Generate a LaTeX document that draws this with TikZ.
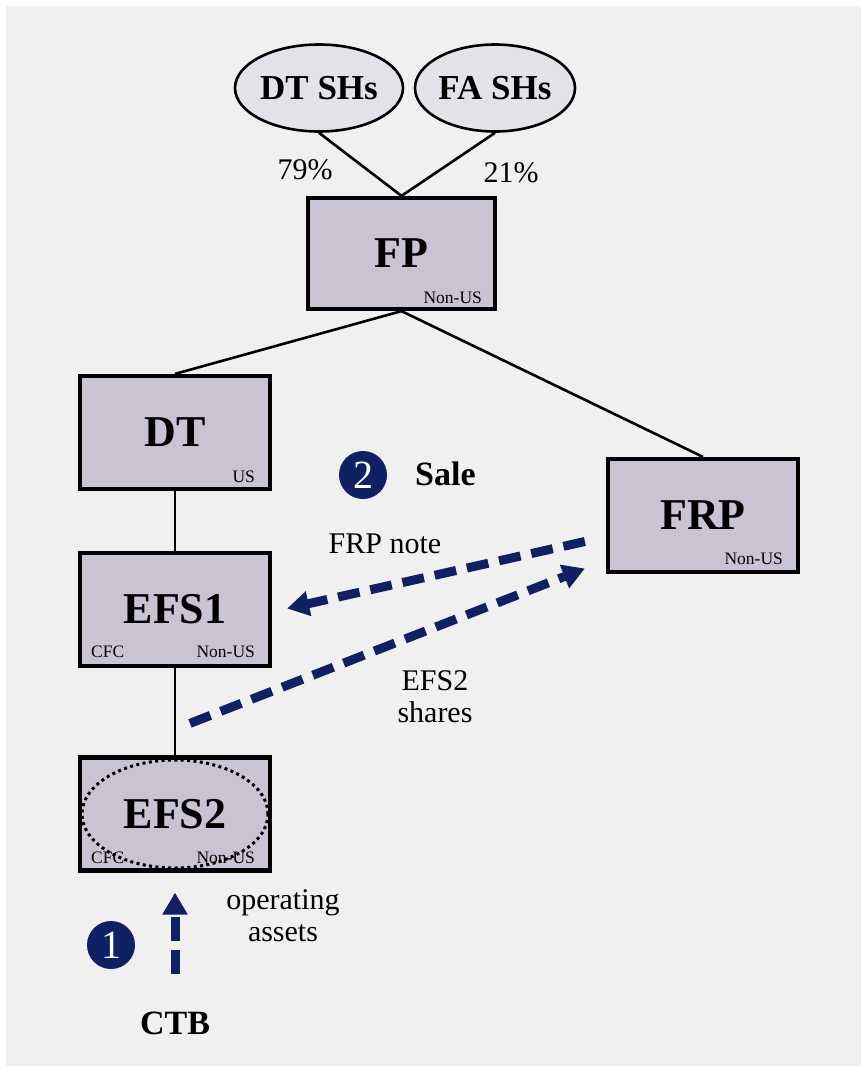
\documentclass[tikz,border=0pt]{standalone}
\usepackage{fontspec}
\setmainfont{Liberation Serif}
\usetikzlibrary{shapes.geometric,arrows.meta}
\definecolor{panel}{HTML}{F0F0F0}
\definecolor{boxfill}{HTML}{C9C3D3}
\definecolor{ovalfill}{HTML}{E4E2E8}
\definecolor{navy}{HTML}{0F2163}

\begin{document}
\begin{tikzpicture}[x=1pt,y=-1pt,
  entity/.style={draw=black, line width=4.2pt, fill=boxfill, rectangle,
    minimum width=190pt, minimum height=113pt, inner sep=0pt,
    font=\fontsize{44}{44}\selectfont\bfseries},
  holder/.style={draw=black, line width=2.6pt, fill=ovalfill, ellipse,
    minimum height=87pt, inner sep=0pt,
    font=\fontsize{35}{35}\selectfont\bfseries},
  tag/.style={inner sep=0pt, font=\fontsize{17.5}{17.5}\selectfont},
  lbl/.style={inner sep=0pt, align=center, font=\fontsize{30}{32}\selectfont},
  own/.style={line width=2.6pt},
  flow/.style={navy, line width=9pt, dash pattern=on 22pt off 11pt,
    -{Triangle[length=22pt,width=24pt]}},
  badge/.style={circle, fill=navy, text=white, minimum size=48pt, inner sep=0pt,
    font=\fontsize{40}{40}\selectfont},
  cto/.style={inner sep=0pt, font=\fontsize{34}{34}\selectfont\bfseries},
]
% page and panel
\fill[white] (0,0) rectangle (861,1066);
\fill[panel] (6,6) rectangle (861,1066);
\useasboundingbox (0,0) rectangle (861,1066);

% shareholders
\node[holder, minimum width=168pt] (dtsh) at (319,88) {DT SHs};
\node[holder, minimum width=154pt] (fash) at (495,88) {FA SHs};

% entities
\node[entity, minimum width=187pt, minimum height=111pt] (fp) at (401.5,253.5) {FP};
\node[entity] (dt) at (175,432.5) {DT};
\node[entity] (efs1) at (175,609.5) {EFS1};
\node[entity] (efs2) at (175,814) {EFS2};
\node[entity] (frp) at (703,515.5) {FRP};

% jurisdiction tags
\node[tag, anchor=base east] (fptag) at ([xshift=-15pt,yshift=8pt]fp.south east) {Non-US};
\node[tag, anchor=base east] (dttag) at ([xshift=-17pt,yshift=9pt]dt.south east) {US};
\node[tag, anchor=base east] (efs1tag) at ([xshift=-17pt,yshift=11pt]efs1.south east) {Non-US};
\node[tag, anchor=base west] (efs1cfc) at ([xshift=13pt,yshift=11pt]efs1.south west) {CFC};
\node[tag, anchor=base east] (efs2tag) at ([xshift=-17pt,yshift=9pt]efs2.south east) {Non-US};
\node[tag, anchor=base west] (efs2cfc) at ([xshift=13pt,yshift=9pt]efs2.south west) {CFC};
\node[tag, anchor=base east] (frptag) at ([xshift=-17pt,yshift=10pt]frp.south east) {Non-US};

% disregarded-entity marker
\node[ellipse, draw=black, line width=3pt, dash pattern=on 3pt off 3.4pt,
  minimum width=186pt, minimum height=108pt, inner sep=0pt] (efs2oval) at (efs2.center) {};

% ownership lines
\draw[own] (dtsh.south) -- (fp.north);
\draw[own] (fash.south) -- (fp.north);
\draw[own] (fp.south) -- (dt.north);
\draw[own] (fp.south) -- (frp.north);
\draw[own] (dt.south) -- (efs1.north);
\draw[own] (efs1.south) -- (efs2.north);

% ownership percentages
\node[lbl] (pct79) at (305,170) {79\%};
\node[lbl] (pct21) at (511,173) {21\%};

% step 2: sale
\node[badge] (b2) at (363,475) {2};
\node[cto, anchor=west] (sale) at (415,474) {Sale};
\draw[flow] ([xshift=-21pt,yshift=-26pt]frp.west) -- ([xshift=15pt,yshift=1pt]efs1.east);
\draw[flow] ([xshift=15pt,yshift=32pt]efs2.north) -- ([xshift=-21pt,yshift=-53pt]frp.west);
\node[lbl] (note) at (385,544) {FRP note};
\node[lbl] (shares) at (435,697) {EFS2\\shares};

% step 1: check the box
\node[badge] (b1) at (111,945) {1};
\node[cto] (ctb) at (175,1023) {CTB};
\draw[flow, dash pattern=on 24pt off 9pt] ([yshift=37pt]ctb.north) -- ([yshift=-20pt]efs2.south);
\node[lbl] (assets) at (283,916) {operating\\assets};
\end{tikzpicture}
\end{document}
